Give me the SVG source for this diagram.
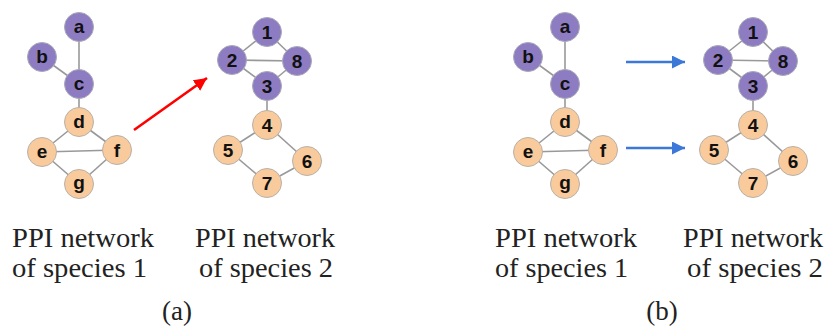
<svg xmlns="http://www.w3.org/2000/svg" width="825" height="329" viewBox="0 0 825 329">
<style>
.p circle{fill:#8e7cc3;stroke:#a9a9b8;stroke-width:1}
.o circle{fill:#f9cb9c;stroke:#b8b0a8;stroke-width:1}
.n text{font-family:"Liberation Sans",Arial,sans-serif;font-weight:bold;font-size:19px;fill:#111;text-anchor:middle}
.e line{stroke:#999;stroke-width:1.6}
.cap{font-family:"Liberation Serif","Times New Roman",serif;font-size:27px;fill:#222}
</style>
<defs>
<marker id="ar" viewBox="0 0 10 10" refX="10" refY="5" markerWidth="5" markerHeight="5" markerUnits="strokeWidth" orient="auto"><path d="M0,0L10,5L0,10z" fill="#ff0000"/></marker>
<marker id="ab" viewBox="0 0 10 10" refX="10" refY="5" markerWidth="6" markerHeight="5" markerUnits="strokeWidth" orient="auto"><path d="M0,0L10,5L0,10z" fill="#3c78d8"/></marker>
</defs>
<g id="panel-a">
<g id="edges-a" class="e">
<line x1="79" y1="27" x2="79" y2="84"/><line x1="42" y1="57" x2="79" y2="84"/><line x1="79" y1="84" x2="79" y2="122"/>
<line x1="79" y1="122" x2="42" y2="152"/><line x1="79" y1="122" x2="117" y2="150"/><line x1="42" y1="152" x2="117" y2="150"/>
<line x1="42" y1="152" x2="79" y2="184"/><line x1="117" y1="150" x2="79" y2="184"/>
<line x1="267" y1="32" x2="232" y2="60"/><line x1="267" y1="32" x2="297" y2="61"/><line x1="232" y1="60" x2="297" y2="61"/>
<line x1="232" y1="60" x2="267" y2="86"/><line x1="297" y1="61" x2="267" y2="86"/><line x1="267" y1="86" x2="267" y2="125"/>
<line x1="267" y1="125" x2="228" y2="150"/><line x1="267" y1="125" x2="307" y2="161"/><line x1="228" y1="150" x2="267" y2="183"/><line x1="307" y1="161" x2="267" y2="183"/>
<line x1="134" y1="130" x2="207" y2="78" stroke="#ff0000" style="stroke:#ff0000;stroke-width:2.6" marker-end="url(#ar)"/>
</g>
<g class="n">
<g id="a1" class="p"><circle cx="79" cy="27" r="14.5"/><text x="79" y="33">a</text></g>
<g id="b1" class="p"><circle cx="42" cy="57" r="14.5"/><text x="42" y="63">b</text></g>
<g id="c1" class="p"><circle cx="79" cy="84" r="14.5"/><text x="79" y="90">c</text></g>
<g id="d1" class="o"><circle cx="79" cy="122" r="14.5"/><text x="79" y="128">d</text></g>
<g id="e1" class="o"><circle cx="42" cy="152" r="14.5"/><text x="42" y="158">e</text></g>
<g id="f1" class="o"><circle cx="117" cy="150" r="14.5"/><text x="117" y="157">f</text></g>
<g id="g1" class="o"><circle cx="79" cy="184" r="14.5"/><text x="79" y="189">g</text></g>
<g id="n1a" class="p"><circle cx="267" cy="32" r="14.5"/><text x="267" y="39">1</text></g>
<g id="n2a" class="p"><circle cx="232" cy="60" r="14.5"/><text x="232" y="67">2</text></g>
<g id="n8a" class="p"><circle cx="297" cy="61" r="14.5"/><text x="297" y="68">8</text></g>
<g id="n3a" class="p"><circle cx="267" cy="86" r="14.5"/><text x="267" y="93">3</text></g>
<g id="n4a" class="o"><circle cx="267" cy="125" r="14.5"/><text x="267" y="132">4</text></g>
<g id="n5a" class="o"><circle cx="228" cy="150" r="14.5"/><text x="228" y="157">5</text></g>
<g id="n6a" class="o"><circle cx="307" cy="161" r="14.5"/><text x="307" y="168">6</text></g>
<g id="n7a" class="o"><circle cx="267" cy="183" r="14.5"/><text x="267" y="190">7</text></g>
</g>
<text class="cap" x="12" y="247" textLength="142" lengthAdjust="spacingAndGlyphs">PPI network</text>
<text class="cap" x="12" y="277" textLength="135" lengthAdjust="spacingAndGlyphs">of species 1</text>
<text class="cap" x="195" y="247" textLength="140" lengthAdjust="spacingAndGlyphs">PPI network</text>
<text class="cap" x="199" y="277" textLength="134" lengthAdjust="spacingAndGlyphs">of species 2</text>
<text class="cap" x="177" y="320" text-anchor="middle">(a)</text>
</g>
<g id="panel-b" transform="translate(486,0)">
<g id="edges-b" class="e">
<line x1="79" y1="27" x2="79" y2="84"/><line x1="42" y1="57" x2="79" y2="84"/><line x1="79" y1="84" x2="79" y2="122"/>
<line x1="79" y1="122" x2="42" y2="152"/><line x1="79" y1="122" x2="117" y2="150"/><line x1="42" y1="152" x2="117" y2="150"/>
<line x1="42" y1="152" x2="79" y2="184"/><line x1="117" y1="150" x2="79" y2="184"/>
<line x1="267" y1="32" x2="232" y2="60"/><line x1="267" y1="32" x2="297" y2="61"/><line x1="232" y1="60" x2="297" y2="61"/>
<line x1="232" y1="60" x2="267" y2="86"/><line x1="297" y1="61" x2="267" y2="86"/><line x1="267" y1="86" x2="267" y2="125"/>
<line x1="267" y1="125" x2="228" y2="150"/><line x1="267" y1="125" x2="307" y2="161"/><line x1="228" y1="150" x2="267" y2="183"/><line x1="307" y1="161" x2="267" y2="183"/>
<line x1="140" y1="62" x2="199" y2="62" style="stroke:#3c78d8;stroke-width:2.6" marker-end="url(#ab)"/>
<line x1="140" y1="148" x2="199" y2="148" style="stroke:#3c78d8;stroke-width:2.6" marker-end="url(#ab)"/>
</g>
<g class="n">
<g id="a2" class="p"><circle cx="79" cy="27" r="14.5"/><text x="79" y="33">a</text></g>
<g id="b2" class="p"><circle cx="42" cy="57" r="14.5"/><text x="42" y="63">b</text></g>
<g id="c2" class="p"><circle cx="79" cy="84" r="14.5"/><text x="79" y="90">c</text></g>
<g id="d2" class="o"><circle cx="79" cy="122" r="14.5"/><text x="79" y="128">d</text></g>
<g id="e2" class="o"><circle cx="42" cy="152" r="14.5"/><text x="42" y="158">e</text></g>
<g id="f2" class="o"><circle cx="117" cy="150" r="14.5"/><text x="117" y="157">f</text></g>
<g id="g2" class="o"><circle cx="79" cy="184" r="14.5"/><text x="79" y="189">g</text></g>
<g id="n1b" class="p"><circle cx="267" cy="32" r="14.5"/><text x="267" y="39">1</text></g>
<g id="n2b" class="p"><circle cx="232" cy="60" r="14.5"/><text x="232" y="67">2</text></g>
<g id="n8b" class="p"><circle cx="297" cy="61" r="14.5"/><text x="297" y="68">8</text></g>
<g id="n3b" class="p"><circle cx="267" cy="86" r="14.5"/><text x="267" y="93">3</text></g>
<g id="n4b" class="o"><circle cx="267" cy="125" r="14.5"/><text x="267" y="132">4</text></g>
<g id="n5b" class="o"><circle cx="228" cy="150" r="14.5"/><text x="228" y="157">5</text></g>
<g id="n6b" class="o"><circle cx="307" cy="161" r="14.5"/><text x="307" y="168">6</text></g>
<g id="n7b" class="o"><circle cx="267" cy="183" r="14.5"/><text x="267" y="190">7</text></g>
</g>
<text class="cap" x="9" y="247" textLength="142" lengthAdjust="spacingAndGlyphs">PPI network</text>
<text class="cap" x="9" y="277" textLength="133" lengthAdjust="spacingAndGlyphs">of species 1</text>
<text class="cap" x="197" y="247" textLength="140" lengthAdjust="spacingAndGlyphs">PPI network</text>
<text class="cap" x="201" y="277" textLength="136" lengthAdjust="spacingAndGlyphs">of species 2</text>
<text class="cap" x="176" y="320" text-anchor="middle">(b)</text>
</g>
</svg>
